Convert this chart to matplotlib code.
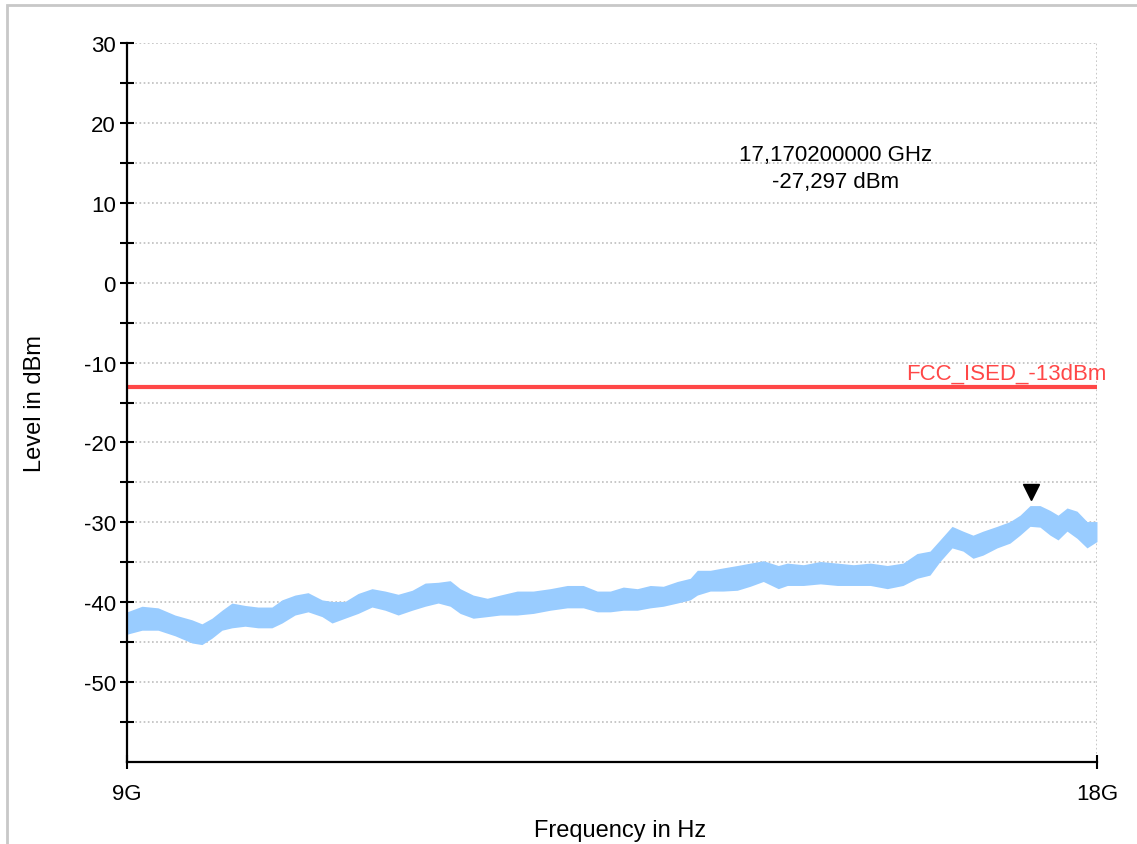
import matplotlib
matplotlib.use('Agg')
import matplotlib.pyplot as plt
import matplotlib.transforms as mtransforms
from matplotlib.patches import Rectangle

plt.rcParams['font.family'] = ['Liberation Sans', 'DejaVu Sans']
plt.rcParams['axes.unicode_minus'] = False

# trace envelope (frequency in GHz, level in dBm)
freq_ghz = [9.000, 9.097, 9.202, 9.314, 9.428, 9.495, 9.563, 9.632, 9.701, 9.792,
            9.883, 9.982, 10.054, 10.148, 10.243, 10.346, 10.420, 10.517, 10.616, 10.722,
            10.823, 10.924, 11.034, 11.137, 11.241, 11.338, 11.419, 11.526, 11.642, 11.750,
            11.894, 12.031, 12.178, 12.327, 12.469, 12.594, 12.712, 12.831, 12.960, 13.081,
            13.203, 13.336, 13.460, 13.528, 13.654, 13.781, 13.920, 14.050, 14.181, 14.334,
            14.427, 14.593, 14.771, 14.952, 15.124, 15.308, 15.495, 15.670, 15.828, 15.975,
            16.090, 16.229, 16.357, 16.474, 16.592, 16.759, 16.915, 17.037, 17.159, 17.282,
            17.406, 17.506, 17.619, 17.745, 17.872, 18.000]
level_hi = [-41.2, -40.5, -40.7, -41.6, -42.2, -42.7, -42.0, -41.0, -40.1, -40.4,
            -40.6, -40.6, -39.7, -39.1, -38.8, -39.7, -39.9, -39.9, -38.9, -38.3,
            -38.6, -39.0, -38.5, -37.6, -37.5, -37.3, -38.3, -39.1, -39.5, -39.1,
            -38.6, -38.6, -38.3, -37.9, -37.9, -38.6, -38.6, -38.1, -38.3, -37.9,
            -38.0, -37.4, -37.0, -36.0, -36.0, -35.7, -35.4, -35.1, -34.8, -35.4,
            -35.1, -35.3, -34.9, -35.1, -35.3, -35.1, -35.4, -35.1, -33.9, -33.6,
            -32.2, -30.5, -31.1, -31.6, -31.1, -30.5, -29.9, -29.1, -27.9, -27.9,
            -28.5, -29.1, -28.2, -28.6, -29.9, -29.9]
level_lo = [-44.0, -43.5, -43.5, -44.2, -45.1, -45.3, -44.5, -43.5, -43.2, -43.0,
            -43.2, -43.2, -42.6, -41.6, -41.2, -41.8, -42.6, -42.0, -41.4, -40.6,
            -41.0, -41.6, -41.0, -40.5, -40.1, -40.5, -41.4, -42.0, -41.8, -41.6,
            -41.6, -41.4, -41.0, -40.7, -40.7, -41.2, -41.2, -41.0, -41.0, -40.7,
            -40.5, -40.1, -39.7, -39.1, -38.6, -38.6, -38.5, -38.0, -37.4, -38.3,
            -37.9, -37.9, -37.7, -37.9, -37.9, -37.9, -38.3, -37.9, -37.0, -36.6,
            -34.9, -33.2, -33.6, -34.5, -34.1, -33.2, -32.6, -31.6, -30.5, -30.6,
            -31.6, -32.2, -31.1, -32.0, -33.2, -32.4]

limit_level = -13
limit_name = 'FCC_ISED_-13dBm'
peak_freq = 17.1702
peak_level = -27.297

fig = plt.figure(figsize=(11.37, 8.45), dpi=100)
ax = fig.add_axes([0.1117, 0.097, 0.8531, 0.8509])

# light grey frame round the picture
fig.patches.append(Rectangle((7 / 1137, -0.05), 1.2, 1 - 6 / 845 + 0.05,
                             transform=fig.transFigure, fill=False,
                             edgecolor='#c8c8c8', linewidth=2))

ax.fill_between(freq_ghz, level_lo, level_hi, color='#99ccff', linewidth=0)
ax.axhline(limit_level, color='#ff4747', linewidth=3)
ax.text(1.0103, limit_level + 0.35, limit_name, transform=ax.get_yaxis_transform(),
        color='#ff4747', fontsize=16, ha='right', va='bottom')

# marker triangle just above the peak
mk = mtransforms.offset_copy(ax.transData, fig=fig, x=0, y=9, units='dots')
ax.plot([peak_freq], [peak_level], marker='v', color='black', markersize=11,
        linestyle='none', transform=mk)

ax.text(0.730, 0.8456, '17,170200000 GHz', transform=ax.transAxes,
        ha='center', va='center', fontsize=16)
ax.text(0.730, 0.808, '-27,297 dBm', transform=ax.transAxes,
        ha='center', va='center', fontsize=16)

ax.set_xscale('log')
ax.set_xlim(9, 18)
ax.set_ylim(-60, 30)
ax.set_xticks([9, 18])
ax.set_xticklabels(['9G', '18G'])
ax.xaxis.set_minor_locator(matplotlib.ticker.NullLocator())
ax.set_yticks(range(-50, 31, 10))
ax.set_yticks(range(-55, 30, 10), minor=True)

ax.spines['top'].set_visible(False)
ax.spines['right'].set_visible(False)
ax.spines['left'].set_linewidth(1.6)
ax.spines['bottom'].set_linewidth(1.6)

ax.tick_params(axis='y', which='both', direction='inout', length=10, width=1.5,
               labelsize=16, pad=3)
ax.tick_params(axis='x', which='both', direction='inout', length=10, width=1.5,
               labelsize=16, pad=10)

ax.grid(True, axis='y', which='both', linestyle=(0, (1, 1.5)), color='#bdbdbd', linewidth=1.2)
ax.grid(True, axis='x', which='major', linestyle=(0, (1, 1.5)), color='#bdbdbd', linewidth=1.2)
ax.set_axisbelow(True)

ax.set_xlabel('Frequency in Hz', fontsize=17, va='center')
ax.set_ylabel('Level in dBm', fontsize=17, va='center')
ax.xaxis.set_label_coords(0.508, -0.094)
ax.yaxis.set_label_coords(-0.0948, 0.5)

fig.savefig('out.png', dpi=100)
